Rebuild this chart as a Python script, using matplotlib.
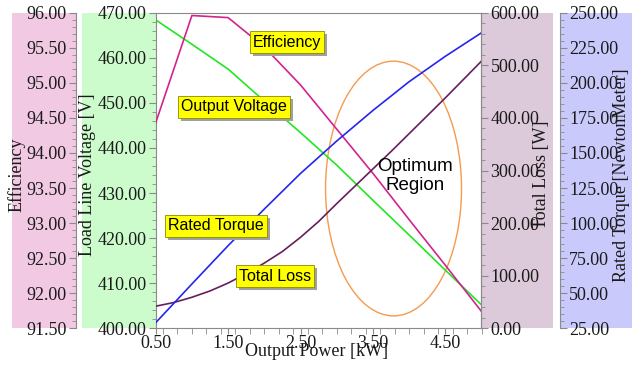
import matplotlib
matplotlib.use("Agg")
import matplotlib.pyplot as plt
import matplotlib.patheffects as pe
from matplotlib.patches import Rectangle, Ellipse
from matplotlib.ticker import MultipleLocator, FixedLocator, FormatStrFormatter

plt.rcParams["font.family"] = "Liberation Serif"

# values
power = [0.5, 1.0, 1.5, 2.0, 2.5, 3.0, 3.5, 4.0, 4.5, 5.0]
efficiency = [94.43, 95.96, 95.93, 95.51, 94.97, 94.34, 93.71, 93.05, 92.40, 91.74]
voltage = [468.4, 463.0, 457.5, 450.4, 443.4, 436.2, 428.4, 420.7, 412.9, 405.2]
torque = [29.0, 56.6, 83.9, 110.0, 135.4, 158.5, 180.3, 200.8, 218.9, 235.7]
loss_power = [0.5, 0.75, 1.0, 1.25, 1.5, 1.75, 2.0, 2.25, 2.5, 2.75,
              3.0, 3.25, 3.5, 3.75, 4.0, 4.25, 4.5, 4.75, 5.0]
loss = [42, 49, 59, 71, 86, 104, 124, 146, 173, 203,
        237, 270, 303, 336, 370, 404, 438, 473, 508]
x_ticks = [0.5, 1.5, 2.5, 3.5, 4.5]

W, H = 632, 366
fig = plt.figure(figsize=(W / 100, H / 100), dpi=100)

# plot box in pixels
px0, px1, py0, py1 = 155.7, 481.5, 12.7, 328.3
ax = fig.add_axes([px0 / W, 1 - py1 / H, (px1 - px0) / W, (py1 - py0) / H])


def panel(x0, x1, color):
    fig.add_artist(Rectangle((x0 / W, 1 - py1 / H), (x1 - x0) / W, (py1 - py0) / H,
                             transform=fig.transFigure, facecolor=color,
                             edgecolor="none", zorder=-1))


panel(12, 75.5, "#F1C9E3")
panel(82, px0, "#CCFBCC")
panel(px1, 553, "#DCC9D9")
panel(560, 632, "#C9C9FC")

ax_eff = ax.twinx()
ax_loss = ax.twinx()
ax_tq = ax.twinx()

spine_col = "#8a8a8a"
for a in (ax, ax_eff, ax_loss, ax_tq):
    for s in a.spines.values():
        s.set_color(spine_col)
        s.set_visible(False)
    a.tick_params(which="both", colors=spine_col, labelcolor="#1a1a1a", labelsize=13)
    a.tick_params(which="major", length=5, pad=1.5)
    a.tick_params(which="minor", length=3)

for side in ("left", "right", "top", "bottom"):
    ax.spines[side].set_visible(True)

ax_eff.yaxis.set_ticks_position("left")
ax_eff.yaxis.set_label_position("left")
ax_eff.spines["left"].set_visible(True)
ax_eff.spines["left"].set_position(("axes", (76 - px0) / (px1 - px0)))

ax_loss.spines["right"].set_visible(True)
ax_tq.spines["right"].set_visible(True)
ax_tq.spines["right"].set_position(("axes", 1 + (560 - px1) / (px1 - px0)))

# lines
ax.plot(power, voltage, color="#22E622", lw=1.2)
ax_eff.plot(power, efficiency, color="#D2238E", lw=1.2)
ax_loss.plot(loss_power, loss, color="#681E5E", lw=1.2)
ax_tq.plot(power, torque, color="#2525F0", lw=1.2)

ax.add_patch(Ellipse((3.785, 431.0), 1.878, 56.5, fill=False,
                     edgecolor="#F59A4E", lw=1.0))

# limits and ticks
ax.set_xlim(0.5, 5.0)
ax.xaxis.set_major_locator(FixedLocator(x_ticks))
ax.xaxis.set_minor_locator(MultipleLocator(0.2))
ax.xaxis.set_major_formatter(FormatStrFormatter("%.2f"))
ax.tick_params(axis="x", which="both", length=4, pad=0.5)

ax.set_ylim(400, 470)
ax.yaxis.set_major_locator(MultipleLocator(10))
ax.yaxis.set_minor_locator(MultipleLocator(2))

ax_eff.set_ylim(91.5, 96)
ax_eff.yaxis.set_major_locator(MultipleLocator(0.5))
ax_eff.yaxis.set_minor_locator(MultipleLocator(0.1))

ax_loss.set_ylim(0, 600)
ax_loss.yaxis.set_major_locator(MultipleLocator(100))
ax_loss.yaxis.set_minor_locator(MultipleLocator(20))

ax_tq.set_ylim(25, 250)
ax_tq.yaxis.set_major_locator(MultipleLocator(25))
ax_tq.yaxis.set_minor_locator(MultipleLocator(5))

for a in (ax, ax_eff, ax_loss, ax_tq):
    a.yaxis.set_major_formatter(FormatStrFormatter("%.2f"))

# axis labels
lab_kw = dict(fontsize=13, color="#1a1a1a")
ax.set_xlabel("Output Power [kW]", **lab_kw)
ax.set_ylabel("Load Line Voltage [V]", **lab_kw)
ax_eff.set_ylabel("Efficiency", **lab_kw)
ax_loss.set_ylabel("Total Loss [W]", **lab_kw)
ax_tq.set_ylabel("Rated Torque [NewtonMeter]", **lab_kw)

span = px1 - px0
ax.xaxis.set_label_coords((316.5 - px0) / span, (py1 - 352) / (py1 - py0))
ax.yaxis.set_label_coords((87 - px0) / span, 0.486)
ax_eff.yaxis.set_label_coords((16.5 - px0) / span, 0.486)
ax_loss.yaxis.set_label_coords((542 - px0) / span, 0.486)
ax_tq.yaxis.set_label_coords((621 - px0) / span, 0.486)
for lab in (ax.xaxis.label, ax.yaxis.label, ax_eff.yaxis.label,
            ax_loss.yaxis.label, ax_tq.yaxis.label):
    lab.set_va("center")
    lab.set_ha("center")

# curve labels (yellow boxes with a drop shadow)
boxes = [("Efficiency", 2.313, 463.5), ("Output Voltage", 1.581, 449.1),
         ("Rated Torque", 1.333, 422.7), ("Total Loss", 2.148, 411.6)]
for text, bx, by in boxes:
    t = ax_tq.annotate(text, xy=(bx, by), xycoords=ax.transData,
                       ha="center", va="center", fontsize=11.5,
                       family="Liberation Sans", color="black",
                       bbox=dict(boxstyle="square,pad=0.2", fc="#FFFF00",
                                 ec="#8a8a00", lw=0.6),
                       zorder=6)
    t.get_bbox_patch().set_path_effects([
        pe.SimplePatchShadow(offset=(2.2, -2.2), shadow_rgbFace="#a0a0a0", alpha=1.0),
        pe.Normal()])

ax_tq.annotate("Optimum\nRegion", xy=(4.081, 433.8), xycoords=ax.transData,
               ha="center", va="center", fontsize=13.5,
               family="Liberation Sans", color="black", linespacing=1.1)

fig.savefig("out.png", dpi=100)
